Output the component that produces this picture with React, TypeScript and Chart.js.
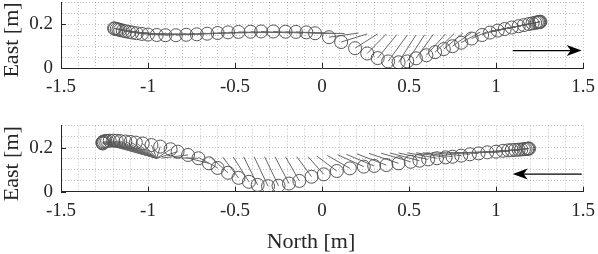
import { useEffect, useRef } from "react";
import { Chart, registerables } from "chart.js";

Chart.register(...registerables);

// ---------- data (North = x, East = y, metres) ----------
// Upper panel: run towards +North
const TOP_NORTH = [
  -1.195, -1.19, -1.18, -1.17, -1.16, -1.145, -1.13, -1.11, -1.09, -1.065, -1.035, -1.0,
  -0.95, -0.9, -0.84, -0.78, -0.72, -0.66, -0.6, -0.54, -0.48, -0.41, -0.35, -0.28, -0.21, -0.15, -0.09, -0.04,
  0.04, 0.11, 0.19, 0.26, 0.32, 0.38, 0.44, 0.49, 0.54,
  0.6, 0.65, 0.7, 0.75, 0.8, 0.86, 0.92, 0.965,
  1.01, 1.05, 1.09, 1.13, 1.16, 1.19, 1.21, 1.225, 1.235, 1.243, 1.248, 1.252, 1.255,
];
const TOP_EAST = [
  0.18, 0.179, 0.177, 0.175, 0.173, 0.17, 0.167, 0.164, 0.161, 0.158, 0.155, 0.152,
  0.15, 0.149, 0.149, 0.151, 0.153, 0.156, 0.159, 0.162, 0.164, 0.165, 0.166, 0.166, 0.165, 0.164, 0.162, 0.158,
  0.14, 0.118, 0.09, 0.066, 0.045, 0.03, 0.026, 0.03, 0.044,
  0.058, 0.072, 0.086, 0.099, 0.115, 0.134, 0.15, 0.161,
  0.17, 0.177, 0.184, 0.19, 0.195, 0.2, 0.203, 0.205, 0.207, 0.208, 0.209, 0.21, 0.21,
];
// end point of the rod attached to each marker
const TOP_TIP_NORTH = [
  -1.03, -1.02, -1.01, -1.0, -0.99, -0.975, -0.96, -0.94, -0.92, -0.895, -0.865, -0.83,
  -0.78, -0.73, -0.67, -0.61, -0.55, -0.49, -0.43, -0.37, -0.31, -0.24, -0.18, -0.11, -0.04, 0.02, 0.08, 0.13,
  0.21, 0.26, 0.32, 0.37, 0.43, 0.49, 0.54, 0.59, 0.64,
  0.71, 0.76, 0.81, 0.86, 0.91, 0.95, 0.965, 0.965,
  0.965, 0.965, 0.965, 0.965, 0.965, 0.965, 0.965, 0.965, 0.965, 0.965, 0.965, 0.965, 0.965,
];
const TOP_TIP_EAST = [
  0.157, 0.156, 0.155, 0.155, 0.155, 0.155, 0.155, 0.155, 0.155, 0.155, 0.155, 0.155,
  0.156, 0.157, 0.158, 0.159, 0.16, 0.16, 0.16, 0.16, 0.16, 0.16, 0.159, 0.158, 0.158, 0.158, 0.157, 0.157,
  0.159, 0.155, 0.155, 0.155, 0.152, 0.15, 0.15, 0.151, 0.153,
  0.155, 0.157, 0.159, 0.161, 0.163, 0.165, 0.165, 0.165,
  0.165, 0.165, 0.165, 0.165, 0.165, 0.165, 0.165, 0.165, 0.165, 0.165, 0.165, 0.165, 0.165,
];

// Lower panel: run towards -North
const BOT_NORTH = [
  1.19, 1.185, 1.18, 1.17, 1.16, 1.145, 1.13, 1.11, 1.09, 1.07, 1.04, 1.0,
  0.95, 0.9, 0.85, 0.8, 0.75, 0.71, 0.66, 0.61, 0.56, 0.51,
  0.44, 0.37, 0.3, 0.24, 0.16, 0.085, 0.01,
  -0.06, -0.13, -0.19, -0.25, -0.31, -0.37, -0.42, -0.48, -0.54, -0.6, -0.65,
  -0.71, -0.77, -0.83, -0.87, -0.93, -0.98, -1.03, -1.07, -1.1, -1.13, -1.16, -1.18, -1.2, -1.22, -1.235, -1.245, -1.255, -1.26, -1.262, -1.26,
];
const BOT_EAST = [
  0.196, 0.196, 0.195, 0.194, 0.193, 0.192, 0.191, 0.19, 0.189, 0.188, 0.186, 0.182,
  0.179, 0.174, 0.17, 0.164, 0.159, 0.156, 0.152, 0.147, 0.141, 0.136,
  0.129, 0.121, 0.117, 0.114, 0.106, 0.094, 0.079,
  0.068, 0.049, 0.037, 0.027, 0.025, 0.031, 0.045, 0.063, 0.086, 0.108, 0.129,
  0.152, 0.167, 0.182, 0.193, 0.205, 0.212, 0.219, 0.223, 0.226, 0.228, 0.23, 0.231, 0.232, 0.232, 0.231, 0.23, 0.228, 0.225, 0.222, 0.219,
];
const BOT_TIP_NORTH = [
  1.02, 1.015, 1.01, 1.0, 0.99, 0.975, 0.96, 0.94, 0.92, 0.9, 0.87, 0.83,
  0.78, 0.73, 0.68, 0.63, 0.58, 0.54, 0.49, 0.44, 0.39, 0.34,
  0.27, 0.2, 0.14, 0.09, 0.03, -0.03, -0.08,
  -0.145, -0.21, -0.27, -0.33, -0.39, -0.45, -0.51, -0.57, -0.64, -0.71, -0.78,
  -0.85, -0.92, -0.95, -0.95, -0.95, -0.95, -0.95, -0.95, -0.95, -0.95, -0.95, -0.95, -0.95, -0.95, -0.95, -0.95, -0.95, -0.95, -0.95, -0.95,
];
const BOT_TIP_EAST = [
  0.182, 0.182, 0.181, 0.18, 0.18, 0.179, 0.179, 0.178, 0.178, 0.178, 0.178, 0.178,
  0.178, 0.178, 0.178, 0.178, 0.177, 0.177, 0.177, 0.176, 0.176, 0.175,
  0.174, 0.172, 0.17, 0.168, 0.165, 0.162, 0.159,
  0.159, 0.159, 0.159, 0.159, 0.159, 0.158, 0.158, 0.157, 0.157, 0.156, 0.155,
  0.154, 0.153, 0.152, 0.152, 0.152, 0.152, 0.152, 0.152, 0.152, 0.152, 0.152, 0.152, 0.152, 0.152, 0.152, 0.152, 0.152, 0.152, 0.152, 0.152,
];

const X_MAJOR_TICKS = [-1.5, -1, -0.5, 0, 0.5, 1, 1.5];
const Y_MAJOR_TICKS = [0, 0.2];
const X_RANGE = [-1.5, 1.5];
const Y_RANGE = [0, 0.3];
const X_TITLE = "North [m]";
const Y_TITLE = "East [m]";
// direction-of-travel arrows (from, to) in North, and East level
const TOP_ARROW_NORTH = [1.096, 1.4925];
const TOP_ARROW_EAST = 0.079;
const BOT_ARROW_NORTH = [1.4925, 1.096];
const BOT_ARROW_EAST = 0.08;

// ---------- styles ----------
const AXIS = "#262626";
const GRID = "rgba(38,38,38,0.28)";
const MARK = "#555555";
const ROD = "#666666";
const FONT = "Liberation Serif";
const TICK_SIZE = 19;
const TITLE_SIZE = 22;

const isMajor = (v: number, step: number) => Math.abs(v / step - Math.round(v / step)) < 1e-6;
const fmt = (v: number) => String(Number(v.toFixed(2)));

function makeConfig(
  north: number[], east: number[], tipN: number[], tipE: number[],
  arrowN: number[], arrowE: number, padTop: number, xHeight: number, showXTitle: boolean
): any {
  const markers = north.map((n, i) => ({ x: n, y: east[i] }));
  const rods: any[] = [];
  north.forEach((n, i) => {
    rods.push({ x: n, y: east[i] }, { x: tipN[i], y: tipE[i] }, { x: tipN[i], y: null });
  });

  const decor = {
    id: "decor",
    afterDatasetsDraw(chart: any) {
      const { ctx, chartArea, scales } = chart;
      const xs = scales.x, ys = scales.y;
      ctx.save();
      // inward major ticks
      ctx.strokeStyle = AXIS;
      ctx.lineWidth = 1;
      ctx.beginPath();
      X_MAJOR_TICKS.forEach((v) => {
        const px = Math.round(xs.getPixelForValue(v)) + 0.5;
        ctx.moveTo(px, chartArea.bottom);
        ctx.lineTo(px, chartArea.bottom - 5);
      });
      Y_MAJOR_TICKS.forEach((v) => {
        const py = Math.round(ys.getPixelForValue(v)) + 0.5;
        ctx.moveTo(chartArea.left, py);
        ctx.lineTo(chartArea.left + 5, py);
      });
      ctx.stroke();
      // arrow
      const x0 = xs.getPixelForValue(arrowN[0]);
      const x1 = xs.getPixelForValue(arrowN[1]);
      const py = ys.getPixelForValue(arrowE);
      const dir = Math.sign(x1 - x0);
      ctx.strokeStyle = "#000";
      ctx.lineWidth = 1.3;
      ctx.beginPath();
      ctx.moveTo(x0, py);
      ctx.lineTo(x1 - dir * 10, py);
      ctx.stroke();
      ctx.fillStyle = "#000";
      ctx.beginPath();
      ctx.moveTo(x1, py);
      ctx.lineTo(x1 - dir * 15, py - 5.5);
      ctx.lineTo(x1 - dir * 11, py);
      ctx.lineTo(x1 - dir * 15, py + 5.5);
      ctx.closePath();
      ctx.fill();
      // axis titles
      ctx.fillStyle = AXIS;
      ctx.font = `${TITLE_SIZE}px "${FONT}"`;
      ctx.textAlign = "center";
      ctx.textBaseline = "alphabetic";
      if (showXTitle) {
        ctx.fillText(X_TITLE, (chartArea.left + chartArea.right) / 2 - 11, chartArea.bottom + 56);
      }
      ctx.translate(17.5, (chartArea.top + chartArea.bottom) / 2 + 5);
      ctx.rotate(-Math.PI / 2);
      ctx.fillText(Y_TITLE, 0, 0);
      ctx.restore();
    },
  };

  return {
    type: "scatter",
    data: {
      datasets: [
        {
          type: "line",
          data: rods,
          borderColor: ROD,
          borderWidth: 1,
          pointRadius: 0,
          spanGaps: false,
          fill: false,
          tension: 0,
          order: 2,
        },
        {
          type: "scatter",
          data: markers,
          borderColor: MARK,
          backgroundColor: "rgba(0,0,0,0)",
          borderWidth: 1,
          pointRadius: 6.5,
          pointHoverRadius: 6.5,
          order: 1,
        },
      ],
    },
    options: {
      responsive: false,
      animation: false,
      devicePixelRatio: 1,
      events: [],
      layout: { padding: { left: 0, right: 15, top: padTop, bottom: 0 } },
      plugins: { legend: { display: false }, tooltip: { enabled: false } },
      scales: {
        x: {
          type: "linear",
          min: X_RANGE[0],
          max: X_RANGE[1],
          afterFit: (s: any) => {
            s.height = xHeight;
            s.paddingLeft = 0;
            s.paddingRight = 0;
          },
          ticks: {
            stepSize: 0.1,
            autoSkip: false,
            maxRotation: 0,
            minRotation: 0,
            padding: 8,
            color: AXIS,
            font: { family: FONT, size: TICK_SIZE },
            callback: (v: number) => (isMajor(v, 0.5) ? fmt(v) : ""),
          },
          grid: { color: GRID, lineWidth: 1, drawTicks: false },
          border: { color: AXIS, width: 1, dash: [1, 2] },
        },
        y: {
          type: "linear",
          min: Y_RANGE[0],
          max: Y_RANGE[1],
          afterFit: (s: any) => {
            s.width = 61;
            s.paddingTop = 0;
            s.paddingBottom = 0;
          },
          ticks: {
            stepSize: 0.05,
            autoSkip: false,
            padding: 8,
            color: AXIS,
            font: { family: FONT, size: TICK_SIZE },
            callback: (v: number) => (Y_MAJOR_TICKS.some((t) => Math.abs(t - v) < 1e-6) ? fmt(v) : ""),
          },
          grid: { color: GRID, lineWidth: 1, drawTicks: false },
          border: { color: AXIS, width: 1, dash: [1, 2] },
        },
      },
    },
    plugins: [decor],
  };
}

export default function App() {
  const topRef = useRef<HTMLCanvasElement>(null);
  const botRef = useRef<HTMLCanvasElement>(null);

  useEffect(() => {
    const top = new Chart(
      topRef.current as HTMLCanvasElement,
      makeConfig(TOP_NORTH, TOP_EAST, TOP_TIP_NORTH, TOP_TIP_EAST, TOP_ARROW_NORTH, TOP_ARROW_EAST, 16, 32, false)
    );
    const bot = new Chart(
      botRef.current as HTMLCanvasElement,
      makeConfig(BOT_NORTH, BOT_EAST, BOT_TIP_NORTH, BOT_TIP_EAST, BOT_ARROW_NORTH, BOT_ARROW_EAST, 15.7, 62.3, true)
    );
    return () => {
      top.destroy();
      bot.destroy();
    };
  }, []);

  return (
    <div style={{ position: "absolute", left: 0, top: 0, width: 598, height: 254, background: "#fff", overflow: "hidden" }}>
      <canvas ref={topRef} width={598} height={114} style={{ position: "absolute", left: 0, top: -14, width: 598, height: 114 }} />
      <canvas ref={botRef} width={598} height={144} style={{ position: "absolute", left: 0, top: 110, width: 598, height: 144 }} />
    </div>
  );
}
